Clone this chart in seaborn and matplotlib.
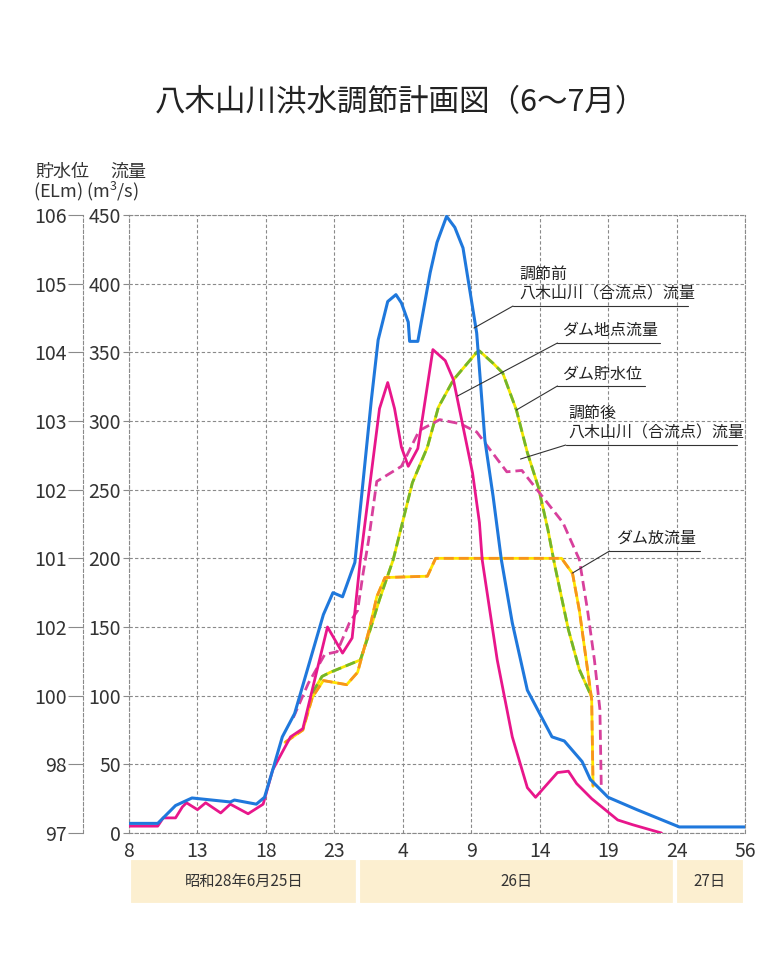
import numpy as np
import pandas as pd
import seaborn as sns
import matplotlib.pyplot as plt

sns.set_theme(style="white")
plt.rcParams['font.family'] = ['Noto Sans CJK JP', 'DejaVu Sans']
plt.rcParams['mathtext.fontset'] = 'custom'
plt.rcParams['mathtext.rm'] = 'Noto Sans CJK JP'
plt.rcParams['mathtext.default'] = 'regular'

# hours counted from 8:00 on the 25th
tick_hours = [0, 5, 10, 15, 20, 25, 30, 35, 40, 45]
tick_labels = ["8", "13", "18", "23", "4", "9", "14", "19", "24", "56"]
flow_ticks = [0, 50, 100, 150, 200, 250, 300, 350, 400, 450]
level_labels = ["97", "98", "100", "102", "101", "102", "103", "104", "105", "106"]

# 調節前 八木山川（合流点）流量
before_h = [0, 2.1, 3.4, 4.6, 7.4, 7.7, 9.3, 9.9, 10.5, 11.2, 12.1, 14.2, 14.9, 15.6,
            16.5, 17.7, 18.2, 18.9, 19.5, 19.9, 20.4, 20.5, 21.1, 22.0, 22.5, 23.2,
            23.8, 24.4, 25.4, 26.0, 26.6, 27.2, 28.0, 29.1, 30.9, 31.8, 33.1, 33.7,
            35.0, 37.1, 40.2, 45.0]
before_q = [7, 7, 20, 25.5, 22.6, 24, 21, 26, 46, 70, 87, 159, 175, 172,
            197, 315, 359, 387, 392, 386, 372, 358, 358, 408, 430, 449,
            441, 426, 364, 286, 245, 199, 153, 104, 70, 67, 52, 39,
            26, 17, 4.4, 4.4]

# ダム地点流量
dam_h = [0, 2.1, 2.5, 3.4, 3.9, 4.2, 5.0, 5.6, 6.7, 7.4, 8.7, 9.8, 10.5, 11.8,
         12.7, 14.5, 15.6, 16.3, 16.9, 18.3, 18.9, 19.4, 19.9, 20.4, 21.1, 22.2,
         23.1, 23.7, 25.1, 25.6, 25.8, 26.9, 28.0, 29.1, 29.7, 31.3, 32.1, 32.7,
         33.8, 35.7, 36.8, 38.9]
dam_q = [5, 5, 11, 11, 19, 22, 17, 22, 14.6, 21, 14, 21, 46, 70,
         76, 150, 131, 142, 199, 309, 328, 309, 281, 267, 280, 352,
         344, 330, 262, 226, 199, 126, 70, 33, 26, 44, 45, 36,
         25, 9.5, 6, 0]

# ダム貯水位 (drawn on the flow scale)
level_h = [13.4, 14.1, 14.7, 16.9, 17.4, 18.3, 19.3, 20.7, 21.8, 22.6, 23.7, 25.4,
           25.6, 26.6, 27.3, 28.3, 29.1, 29.9, 30.6, 31.1, 32.1, 32.9, 33.8]
level_q = [102, 114, 117, 126, 141, 170, 199, 255, 281, 310, 330, 350,
           351, 342, 335, 308, 277, 252, 221, 195, 148, 119, 99]

# ダム放流量
release_h = [11.4, 12.7, 13.4, 14.2, 15.9, 16.7, 17.6, 18.1, 18.7, 21.8, 22.4,
             31.6, 32.4, 32.9, 33.4, 33.8, 33.9]
release_q = [66, 75, 99, 111, 108, 117, 150, 172, 186, 187, 200,
             200, 189, 162, 126, 97, 34]

# 調節後 八木山川（合流点）流量
after_h = [12.0, 13.1, 14.3, 15.2, 16.1, 16.7, 17.1, 17.5, 18.1, 19.9, 21.2, 22.7,
           24.2, 25.4, 27.6, 28.7, 30.2, 31.7, 32.9, 33.5, 34.0, 34.4, 34.5]
after_q = [84, 109, 130, 132, 153, 162, 189, 213, 256, 267, 293, 301,
           298, 292, 263, 264, 245, 226, 199, 162, 126, 90, 34]

day_edges = [0, 16.75, 39.85, 45]
day_labels = ["昭和28年6月25日", "26日", "27日"]

W, H = 764, 955
fig = plt.figure(figsize=(W / 100, H / 100), dpi=100)
ax = fig.add_axes([129 / W, (H - 833) / H, (745 - 129) / W, (833 - 215) / H])

grid_col = "#8a8a8a"
dash = (0, (3, 2))

def draw(hh, qq, color, lw=2.0, ls="-", under=None):
    if under is not None:
        sns.lineplot(x=hh, y=qq, ax=ax, color=under, lw=lw, sort=False,
                     estimator=None, zorder=3)
    sns.lineplot(x=hh, y=qq, ax=ax, color=color, lw=lw, linestyle=ls,
                 sort=False, estimator=None, zorder=4)

dashed = (0, (3.6, 1.8))
draw(level_h, level_q, "#72b52c", ls=dashed, under="#f2e600")
draw(release_h, release_q, "#f7941d", ls=dashed, under="#ffe400")
draw(after_h, after_q, "#d8409c", ls=dashed)
draw(dam_h, dam_q, "#e8168b")
draw(before_h, before_q, "#1f78dc", lw=2.2)

ax.set_xlim(0, 45)
ax.set_ylim(0, 450)
ax.set_xticks(tick_hours)
ax.set_xticklabels(tick_labels)
ax.set_yticks(flow_ticks)
ax.set_yticklabels([str(v) for v in flow_ticks])
ax.grid(True, color=grid_col, lw=0.8, linestyle=dash)
for sp in ax.spines.values():
    sp.set_linestyle(dash)
    sp.set_color(grid_col)
    sp.set_linewidth(0.8)
ax.tick_params(axis="x", length=0, pad=6, labelsize=14, labelcolor="#333333")
ax.tick_params(axis="y", length=4, width=0.8, color=grid_col, pad=2,
               labelsize=14, labelcolor="#333333")
ax.set_xlabel("")
ax.set_ylabel("")

# water level axis on the far left
ax2 = ax.twinx()
ax2.set_ylim(0, 450)
ax2.yaxis.set_ticks_position("left")
ax2.yaxis.set_label_position("left")
ax2.set_yticks(flow_ticks)
ax2.set_yticklabels(level_labels)
for name, sp in ax2.spines.items():
    sp.set_visible(name == "left")
ax2.spines["left"].set_position(("outward", 33))
ax2.spines["left"].set_linestyle(dash)
ax2.spines["left"].set_color(grid_col)
ax2.spines["left"].set_linewidth(0.8)
ax2.tick_params(axis="y", length=11, width=0.8, color=grid_col, pad=1,
                labelsize=14, labelcolor="#333333")
ax2.grid(False)

# callouts
notes = [
    ("調節前\n八木山川（合流点）流量", 28.5, 386.6, 28.05, 40.8, 383.7, 25.2, 367.7),
    ("ダム地点流量", 31.6, 359.7, 31.3, 38.8, 356.8, 24.0, 318.2),
    ("ダム貯水位", 31.6, 327.7, 31.3, 37.7, 325.5, 28.3, 308.0),
    ("調節後\n八木山川（合流点）流量", 32.1, 285.4, 31.9, 44.4, 282.5, 28.6, 272.3),
    ("ダム放流量", 35.6, 208.3, 35.1, 41.7, 205.3, 32.4, 189.3),
]
for txt, tx, ty, u0, u1, uy, px, py in notes:
    ax.text(tx, ty, txt, fontsize=11.5, color="#222222", ha="left", va="bottom",
            linespacing=1.15, zorder=6)
    ax.plot([u0, u1], [uy, uy], color="#333333", lw=0.8, zorder=6)
    ax.plot([u0, px], [uy, py], color="#333333", lw=0.8, zorder=6)

# date band
band = fig.add_axes([129 / W, (H - 905) / H, (745 - 129) / W, 47 / H])
band.set_xlim(0, 45)
band.set_ylim(0, 1)
for i, lab in enumerate(day_labels):
    a, b = day_edges[i], day_edges[i + 1]
    band.barh(0.5, b - a, left=a, height=1.0, color="#fcefd0",
              edgecolor="white", linewidth=3)
    band.text((a + b) / 2, 0.5, lab, ha="center", va="center", fontsize=11,
              color="#333333")
band.axis("off")

fig.text(400 / W, 1 - 103 / H, "八木山川洪水調節計画図（6～7月）", ha="center",
         va="center", fontsize=22, color="#222222")
fig.text(35 / W, 1 - 172 / H, "貯水位", ha="left", va="center", fontsize=13,
         color="#333333")
fig.text(110 / W, 1 - 172 / H, "流量", ha="left", va="center", fontsize=13,
         color="#333333")
fig.text(33 / W, 1 - 191 / H, "(ELm) (m$^{3}$/s)", ha="left", va="center",
         fontsize=13, color="#333333")

fig.savefig("out.png", dpi=100)
